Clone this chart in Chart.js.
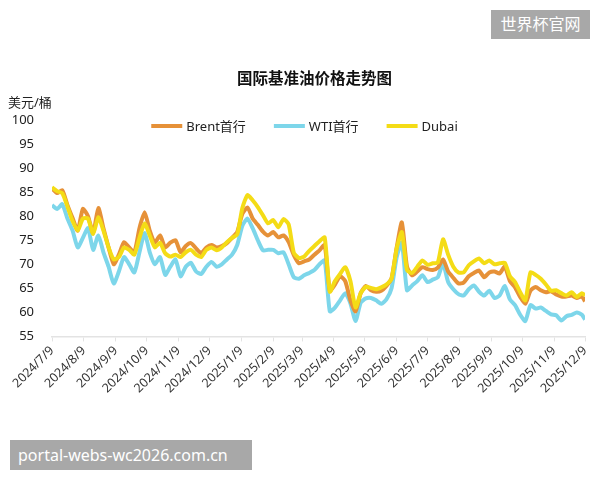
<!DOCTYPE html>
<html>
<head>
<meta charset="utf-8">
<script src="https://cdn.jsdelivr.net/npm/chart.js@4.4.1/dist/chart.umd.min.js"></script>
<style>
  html, body { margin: 0; padding: 0; background: #fff; }
  #wrap { position: relative; width: 600px; height: 480px; }
  .mark { position: absolute; background: #a8a8a8; color: #fff; font-family: 'Noto Sans', 'Noto Sans CJK SC', sans-serif; font-size: 16px; line-height: 30px; padding: 0 8px; }
</style>
</head>
<body>
<div id="wrap">
  <canvas id="oilChart" width="600" height="480"></canvas>
  <div class="mark" style="left:491px; top:10px; height:29px; line-height:29px; width:83px; text-align:center;">世界杯官网</div>
  <div class="mark" style="left:10px; top:440px; height:30px; width:226px;">portal-webs-wc2026.com.cn</div>
</div>
<script>

// sample dates (every 5 days)
const dates = [
  '2024/7/9','2024/7/14','2024/7/19','2024/7/24','2024/7/29','2024/8/3','2024/8/8','2024/8/13','2024/8/18','2024/8/23',
  '2024/8/28','2024/9/2','2024/9/7','2024/9/12','2024/9/17','2024/9/22','2024/9/27','2024/10/2','2024/10/7','2024/10/12',
  '2024/10/17','2024/10/22','2024/10/27','2024/11/1','2024/11/6','2024/11/11','2024/11/16','2024/11/21','2024/11/26','2024/12/1',
  '2024/12/6','2024/12/11','2024/12/16','2024/12/21','2024/12/26','2024/12/31','2025/1/5','2025/1/10','2025/1/15','2025/1/20',
  '2025/1/25','2025/1/30','2025/2/4','2025/2/9','2025/2/14','2025/2/19','2025/2/24','2025/3/1','2025/3/6','2025/3/11',
  '2025/3/16','2025/3/21','2025/3/26','2025/3/31','2025/4/5','2025/4/10','2025/4/15','2025/4/20','2025/4/25','2025/4/30',
  '2025/5/5','2025/5/10','2025/5/15','2025/5/20','2025/5/25','2025/5/30','2025/6/4','2025/6/9','2025/6/14','2025/6/19',
  '2025/6/24','2025/6/29','2025/7/4','2025/7/9','2025/7/14','2025/7/19','2025/7/24','2025/7/29','2025/8/3','2025/8/8',
  '2025/8/13','2025/8/18','2025/8/23','2025/8/28','2025/9/2','2025/9/7','2025/9/12','2025/9/17','2025/9/22','2025/9/27',
  '2025/10/2','2025/10/7','2025/10/12','2025/10/17','2025/10/22','2025/10/27','2025/11/1','2025/11/6','2025/11/11','2025/11/16',
  '2025/11/21','2025/11/26','2025/12/1','2025/12/6','2025/12/9'
];

const brent = [
  85.8,84.8,85.4,82.3,79.6,77.0,81.5,80.0,76.5,81.7,
  77.5,73.5,70.0,72.0,74.6,73.5,72.5,77.5,80.8,77.0,
  74.5,76.0,73.5,74.5,75.0,72.5,73.8,74.4,73.3,72.3,
  73.5,74.0,73.5,73.8,74.4,75.5,76.7,80.5,81.8,79.5,
  78.2,76.8,76.0,76.7,75.6,76.0,74.6,71.9,70.2,70.6,
  71.0,72.0,72.9,74.0,64.5,65.8,67.5,66.5,62.5,60.2,
  64.0,65.5,64.6,64.3,64.5,65.5,67.1,73.5,78.7,69.5,
  67.7,68.5,69.4,69.0,68.8,69.3,71.0,68.5,67.2,66.0,
  66.2,67.5,68.2,68.7,67.3,68.3,68.5,68.1,69.5,66.5,
  65.2,63.2,61.8,64.5,65.3,64.6,64.2,64.4,63.7,63.3,
  63.3,63.5,63.0,63.3,62.3
];

const wti = [
  82.3,81.5,82.5,79.5,77.0,73.5,75.5,77.5,73.0,76.0,
  72.5,69.5,66.0,68.5,71.5,70.0,68.3,72.5,76.5,72.5,
  70.0,71.5,67.8,69.5,71.0,67.5,69.5,70.3,68.5,68.0,
  69.5,70.5,69.5,70.0,71.0,72.0,74.0,78.0,79.5,77.5,
  75.0,72.9,73.0,73.0,72.3,72.5,70.0,67.3,67.0,67.7,
  68.2,68.8,70.0,70.8,60.2,61.0,62.5,64.0,61.9,58.2,
  62.0,62.9,63.0,62.5,61.8,62.7,65.0,71.5,74.5,64.6,
  65.6,66.5,67.7,66.3,66.8,67.3,70.2,66.3,64.8,63.8,
  63.5,64.8,65.6,64.3,63.5,64.5,63.0,63.5,65.5,62.7,
  61.5,59.5,58.2,61.5,60.8,61.0,60.3,59.6,59.4,58.3,
  59.2,59.5,60.0,59.5,58.5
];

const dubai = [
  86.0,85.2,84.8,82.0,79.0,77.0,79.5,79.5,76.3,79.8,
  77.0,73.5,71.0,71.5,73.5,73.0,72.0,75.5,78.5,76.0,
  73.5,74.5,72.3,71.6,72.0,71.5,72.5,73.0,72.0,71.5,
  73.0,73.5,72.9,73.5,74.6,75.5,76.2,81.7,84.4,83.3,
  81.9,80.2,78.5,79.2,77.7,79.4,78.3,72.4,71.3,71.6,
  72.8,73.8,74.8,75.6,64.3,66.5,68.0,69.4,66.5,61.0,
  64.0,65.3,65.1,64.8,65.2,65.8,67.0,73.3,76.7,68.8,
  68.2,69.5,70.8,69.9,70.2,70.4,75.2,72.0,69.5,68.3,
  68.3,69.8,70.6,71.2,70.2,70.8,70.0,70.2,70.3,67.5,
  66.3,64.2,62.5,68.3,67.8,67.0,65.8,64.5,64.6,64.0,
  63.5,64.2,63.2,64.0,63.5
];

const monthTicks = [
  '2024/7/9','2024/8/9','2024/9/9','2024/10/9','2024/11/9','2024/12/9',
  '2025/1/9','2025/2/9','2025/3/9','2025/4/9','2025/5/9','2025/6/9',
  '2025/7/9','2025/8/9','2025/9/9','2025/10/9','2025/11/9','2025/12/9'
];

const seriesNames = ['Brent首行', 'WTI首行', 'Dubai'];
const seriesColors = ['#E69138', '#7DD6EA', '#F4DC16'];

function dayOf(s) {
  const p = s.split('/').map(Number);
  return (Date.UTC(p[0], p[1] - 1, p[2]) - Date.UTC(2024, 6, 9)) / 86400000;
}

function points(values) {
  return dates.map((d, i) => ({ x: dayOf(d), y: values[i] }));
}

Chart.defaults.font.family = "'Noto Sans', 'Noto Sans CJK SC', sans-serif";

// title, unit and legend drawn by hand so the legend can sit inside the plot
const extras = {
  id: 'extras',
  afterDraw(chart) {
    const ctx = chart.ctx;
    const area = chart.chartArea;
    const mid = (area.left + area.right) / 2;
    ctx.save();
    ctx.fillStyle = '#111';
    ctx.font = "bold 15.5px 'Noto Sans', 'Noto Sans CJK SC', sans-serif";
    ctx.textAlign = 'center';
    ctx.textBaseline = 'middle';
    ctx.fillText('国际基准油价格走势图', mid - 4, 80);

    ctx.font = "13px 'Noto Sans', 'Noto Sans CJK SC', sans-serif";
    ctx.textAlign = 'left';
    ctx.fillStyle = '#222';
    ctx.fillText('美元/桶', 8, 103);

    const lineLen = 31, gap = 4, itemGap = 28;
    const widths = seriesNames.map(n => lineLen + gap + ctx.measureText(n).width);
    const total = widths.reduce((a, b) => a + b, 0) + itemGap * (widths.length - 1);
    let x = mid - 14 - total / 2;
    const y = 126;
    seriesNames.forEach((n, i) => {
      ctx.strokeStyle = seriesColors[i];
      ctx.lineWidth = 4;
      ctx.beginPath();
      ctx.moveTo(x, y);
      ctx.lineTo(x + lineLen, y);
      ctx.stroke();
      ctx.fillStyle = '#222';
      ctx.fillText(n, x + lineLen + gap, y + 1);
      x += widths[i] + itemGap;
    });
    ctx.restore();
  }
};

const oilChart = new Chart(document.getElementById('oilChart').getContext('2d'), {
  type: 'line',
  plugins: [extras],
  data: {
    datasets: [
      { label: seriesNames[0], data: points(brent), borderColor: seriesColors[0], order: 1 },
      { label: seriesNames[1], data: points(wti), borderColor: seriesColors[1], order: 2 },
      { label: seriesNames[2], data: points(dubai), borderColor: seriesColors[2], order: 0 }
    ]
  },
  options: {
    responsive: false,
    animation: false,
    elements: {
      line: { borderWidth: 4, tension: 0.2, fill: false },
      point: { radius: 0 }
    },
    // autoPadding off so the first rotated date can hang left of the plot
    layout: { autoPadding: false, padding: { top: 120, left: 4, right: 15, bottom: 82 } },
    plugins: {
      legend: { display: false },
      title: { display: false },
      tooltip: { enabled: false }
    },
    scales: {
      x: {
        type: 'linear',
        min: 0,
        max: dayOf(monthTicks[monthTicks.length - 1]),
        afterBuildTicks: (scale) => {
          scale.ticks = monthTicks.map(s => ({ value: dayOf(s) }));
        },
        grid: { display: true, drawOnChartArea: false, drawTicks: true, tickLength: 5, color: '#e3e3e3' },
        border: { display: true, color: '#e3e3e3', width: 1.5 },
        ticks: {
          autoSkip: false,
          maxRotation: 45,
          minRotation: 45,
          padding: 2,
          color: '#333',
          font: { size: 12.5 },
          callback: (v, i) => monthTicks[i]
        }
      },
      y: {
        min: 55,
        max: 100,
        afterFit: (scale) => { scale.width = 48; },
        grid: { display: false },
        border: { display: false },
        ticks: { stepSize: 5, padding: 10, color: '#222', font: { size: 13 } }
      }
    }
  }
});
</script>
</body>
</html>
